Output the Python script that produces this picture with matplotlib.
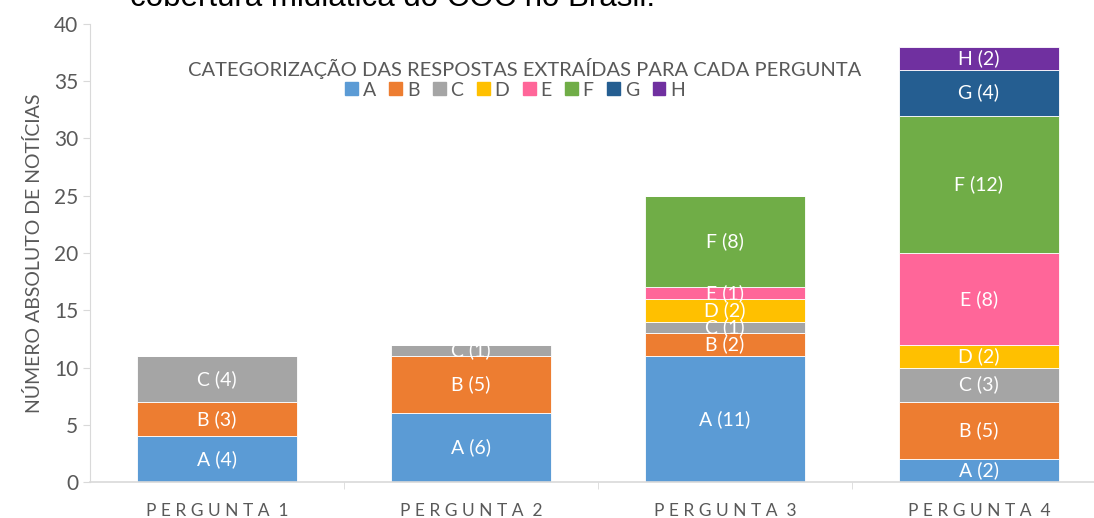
import numpy as np
import matplotlib
matplotlib.use('Agg')
import matplotlib.pyplot as plt
import matplotlib.patches as patch

plt.rcParams['font.family'] = ['Lato', 'DejaVu Sans']

perguntas = ['PERGUNTA 1', 'PERGUNTA 2', 'PERGUNTA 3', 'PERGUNTA 4']
categorias = ['A', 'B', 'C', 'D', 'E', 'F', 'G', 'H']
cores = ['#5B9BD5', '#ED7D31', '#A5A5A5', '#FFC000', '#FF6699', '#70AD47', '#255E91', '#7030A0']

# counts per category (rows) for each question (columns)
A = [4, 6, 11, 2]
B = [3, 5, 2, 5]
C = [4, 1, 1, 3]
D = [0, 0, 2, 2]
E = [0, 0, 1, 8]
F = [0, 0, 8, 12]
G = [0, 0, 0, 4]
H = [0, 0, 0, 2]
valores = [A, B, C, D, E, F, G, H]

fig = plt.figure(figsize=(10.94, 5.18), dpi=100)
ax = fig.add_axes([90/1094, 36/518, 1016/1094, 458/518])

x = np.arange(len(perguntas))
base = np.zeros(len(perguntas))
for cat, cor, vals in zip(categorias, cores, valores):
    vals = np.array(vals, dtype=float)
    ax.bar(x, vals, 0.626, bottom=base, color=cor, edgecolor='white', linewidth=0.6, label=cat)
    for i, v in enumerate(vals):
        if v > 0:
            ax.text(x[i], base[i] + v/2, '%s (%d)' % (cat, v), ha='center', va='center',
                    color='white', fontsize=14)
    base += vals

ax.set_xlim(-0.5, 3.5)
ax.set_ylim(0, 40)
ax.set_yticks(range(0, 41, 5))
ax.tick_params(axis='y', labelsize=15, labelcolor='#595959', color='#D9D9D9', length=5)
ax.set_xticks(x)
ax.set_xticklabels([' '.join(p.replace(' ', '')[:-1]) + '  ' + p[-1] for p in perguntas],
                   fontsize=12.5, color='#595959')
ax.tick_params(axis='x', length=0, pad=15)
ax.set_xticks(x[:-1] + 0.5, minor=True)
ax.tick_params(axis='x', which='minor', length=5, color='#D9D9D9')
for s in ['top', 'right']:
    ax.spines[s].set_visible(False)
ax.spines['left'].set_color('#D9D9D9')
ax.spines['bottom'].set_color('#D9D9D9')
ax.spines['bottom'].set_linewidth(1.2)

ax.set_ylabel('NÚMERO ABSOLUTO DE NOTÍCIAS', fontsize=14, color='#595959', labelpad=8)

ax.text(1.21, 36.1, 'CATEGORIZAÇÃO DAS RESPOSTAS EXTRAÍDAS PARA CADA PERGUNTA',
        ha='center', va='center', fontsize=14.5, color='#595959')
handles = [patch.Patch(color=c, label=l) for c, l in zip(cores, categorias)]
ax.legend(handles=handles, ncol=8, loc='center', bbox_to_anchor=(425/1016, (482 - 90)/458),
          frameon=False, fontsize=14, handlelength=0.65, handleheight=0.65, handletextpad=0.25,
          columnspacing=0.7, labelcolor='#595959', borderpad=0)

fig.text(130/1094, 1 - 6/518, 'cobertura midiática do COC no Brasil.', ha='left', va='baseline',
         fontsize=22.5, color='black', family='Liberation Sans')

plt.savefig('out.png', dpi=100)
